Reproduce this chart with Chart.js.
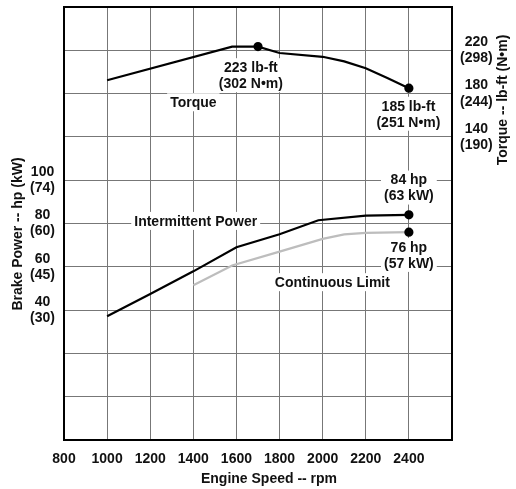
<!DOCTYPE html>
<html>
<head>
<meta charset="utf-8">
<script src="https://cdn.jsdelivr.net/npm/chart.js@4.4.1/dist/chart.umd.min.js"></script>
<style>
  body { margin: 0; background: #fff; }
  #wrap { width: 516px; height: 489px; }
</style>
</head>
<body>
<div id="wrap"><canvas id="chart" width="516" height="489"></canvas></div>
<script>
// torque curve (lb-ft)
var torqueRpm = [1000, 1580, 1700, 1800, 2000, 2100, 2200, 2300, 2400];
var torqueLbft = [192.3, 223.4, 223.4, 217.5, 214, 209.8, 203.5, 194.5, 185];

// intermittent power (hp)
var intermittentRpm = [1000, 1200, 1400, 1600, 1800, 1980, 2200, 2400];
var intermittentHp = [37.2, 47.4, 57.9, 69, 75, 81.5, 83.6, 84];

// continuous limit (hp)
var continuousRpm = [1400, 1580, 1800, 2000, 2100, 2200, 2400];
var continuousHp = [51.5, 60.6, 67, 72.9, 75, 75.7, 76];

// rated points that get a dot
var torqueDots = [1700, 2400];
var powerDots = [2400];

// tick labels
var rpmTicks = [800, 1000, 1200, 1400, 1600, 1800, 2000, 2200, 2400];
var powerTickHp = [40, 60, 80, 100];
var powerTickKw = [30, 45, 60, 74];
var torqueTickLbft = [140, 180, 220];
var torqueTickNm = [190, 244, 298];

var FONT = '"Liberation Sans", Arial, Helvetica, sans-serif';
Chart.defaults.font.family = FONT;
Chart.defaults.font.size = 14;
Chart.defaults.font.weight = 'bold';
Chart.defaults.color = '#111';

var toPoints = function (xs, ys) {
  return xs.map(function (x, i) { return { x: x, y: ys[i] }; });
};

var dotRadius = function (list) {
  return function (ctx) {
    var p = ctx.raw;
    return p && list.indexOf(p.x) >= 0 ? 3.5 : 0;
  };
};

// text notes on the plot, placed in data units
var notes = [
  { lines: ['223 lb-ft', '(302 N\u2022m)'], x: 1667, y: 197, axis: 'y2' },
  { lines: ['Torque'], x: 1400, y: 172, axis: 'y2' },
  { lines: ['185 lb-ft', '(251 N\u2022m)'], x: 2398, y: 161.4, axis: 'y2' },
  { lines: ['84 hp', '(63 kW)'], x: 2400, y: 96.6, axis: 'y' },
  { lines: ['Intermittent Power'], x: 1411, y: 81.2, axis: 'y' },
  { lines: ['Continuous Limit'], x: 2045, y: 52.9, axis: 'y' },
  { lines: ['76 hp', '(57 kW)'], x: 2400, y: 65.5, axis: 'y' }
];

var notesPlugin = {
  id: 'notes',
  beforeDatasetsDraw: function (chart) {
    var ctx = chart.ctx;
    var lh = 16;
    ctx.save();
    ctx.font = 'bold 14px ' + FONT;
    ctx.textAlign = 'center';
    ctx.textBaseline = 'middle';
    notes.forEach(function (n) {
      var px = chart.scales.x.getPixelForValue(n.x);
      var py = chart.scales[n.axis].getPixelForValue(n.y);
      var w = 0;
      n.lines.forEach(function (t) { w = Math.max(w, ctx.measureText(t).width); });
      var h = n.lines.length * lh;
      ctx.fillStyle = '#fff';
      ctx.fillRect(px - w / 2 - 3, py - h / 2 - 1, w + 6, h + 2);
      ctx.fillStyle = '#111';
      n.lines.forEach(function (t, i) {
        ctx.fillText(t, px, py - h / 2 + lh / 2 + i * lh + 1);
      });
    });
    ctx.restore();
  },
  afterDraw: function (chart) {
    var ctx = chart.ctx;
    var a = chart.chartArea;
    ctx.save();
    // frame
    ctx.strokeStyle = '#000';
    ctx.lineWidth = 2;
    ctx.strokeRect(a.left, a.top, a.right - a.left, a.bottom - a.top);
    // axis titles
    ctx.fillStyle = '#111';
    ctx.font = 'bold 14px ' + FONT;
    ctx.textAlign = 'center';
    ctx.textBaseline = 'middle';
    ctx.fillText('Engine Speed -- rpm', a.left + 205, chart.height - 10);
    ctx.translate(18, a.top + 227);
    ctx.rotate(-Math.PI / 2);
    ctx.fillText('Brake Power -- hp (kW)', 0, 0);
    ctx.restore();
    ctx.save();
    ctx.fillStyle = '#111';
    ctx.font = 'bold 14px ' + FONT;
    ctx.textAlign = 'center';
    ctx.textBaseline = 'middle';
    ctx.translate(chart.width - 13, a.top + 93);
    ctx.rotate(-Math.PI / 2);
    ctx.fillText('Torque -- lb-ft (N\u2022m)', 0, 0);
    ctx.restore();
  }
};

var gridStyle = { color: '#777', lineWidth: 1, drawTicks: false };

var noPad = function (s) { s.paddingTop = 0; s.paddingBottom = 0; s.paddingLeft = 0; s.paddingRight = 0; };

var config = {
  type: 'line',
  data: {
    datasets: [{
      label: 'Torque',
      data: toPoints(torqueRpm, torqueLbft),
      yAxisID: 'y2',
      borderColor: '#000',
      backgroundColor: '#000',
      borderWidth: 2.2,
      pointRadius: dotRadius(torqueDots),
      tension: 0
    }, {
      label: 'Intermittent Power',
      data: toPoints(intermittentRpm, intermittentHp),
      yAxisID: 'y',
      borderColor: '#000',
      backgroundColor: '#000',
      borderWidth: 2.2,
      pointRadius: dotRadius(powerDots),
      tension: 0
    }, {
      label: 'Continuous Limit',
      data: toPoints(continuousRpm, continuousHp),
      yAxisID: 'y',
      borderColor: '#bdbdbd',
      backgroundColor: '#000',
      pointBorderColor: '#000',
      borderWidth: 2.2,
      pointRadius: dotRadius(powerDots),
      tension: 0
    }]
  },
  options: {
    responsive: false,
    animation: false,
    layout: { autoPadding: false, padding: { top: 7, left: 0, right: 0, bottom: 0 } },
    plugins: {
      legend: { display: false },
      tooltip: { enabled: false }
    },
    scales: {
      x: {
        type: 'linear',
        min: 800,
        max: 2600,
        grid: gridStyle,
        border: { display: false },
        afterBuildTicks: function (s) {
          s.ticks = [800, 1000, 1200, 1400, 1600, 1800, 2000, 2200, 2400, 2600].map(function (v) { return { value: v }; });
        },
        ticks: {
          padding: 11,
          maxRotation: 0,
          autoSkip: false,
          callback: function (v) { return rpmTicks.indexOf(v) >= 0 ? String(v) : ''; }
        },
        afterFit: function (s) { s.height = 49; noPad(s); }
      },
      y: {
        position: 'left',
        min: -20,
        max: 180,
        grid: gridStyle,
        border: { display: false },
        ticks: {
          stepSize: 20,
          padding: 9,
          crossAlign: 'center',
          font: { lineHeight: 1.15 },
          callback: function (v) {
            var i = powerTickHp.indexOf(v);
            return i >= 0 ? [String(v), '(' + powerTickKw[i] + ')'] : '';
          }
        },
        afterFit: function (s) { s.width = 64; noPad(s); }
      },
      y2: {
        position: 'right',
        min: -140,
        max: 260,
        grid: { display: false, drawTicks: false },
        border: { display: false },
        ticks: {
          stepSize: 40,
          padding: 8,
          crossAlign: 'center',
          font: { lineHeight: 1.15 },
          callback: function (v) {
            var i = torqueTickLbft.indexOf(v);
            return i >= 0 ? [String(v), '(' + torqueTickNm[i] + ')'] : '';
          }
        },
        afterFit: function (s) { s.width = 64; noPad(s); }
      }
    }
  },
  plugins: [notesPlugin]
};

window.onload = function () {
  var ctx = document.getElementById('chart').getContext('2d');
  window.myChart = new Chart(ctx, config);
};
</script>
</body>
</html>
